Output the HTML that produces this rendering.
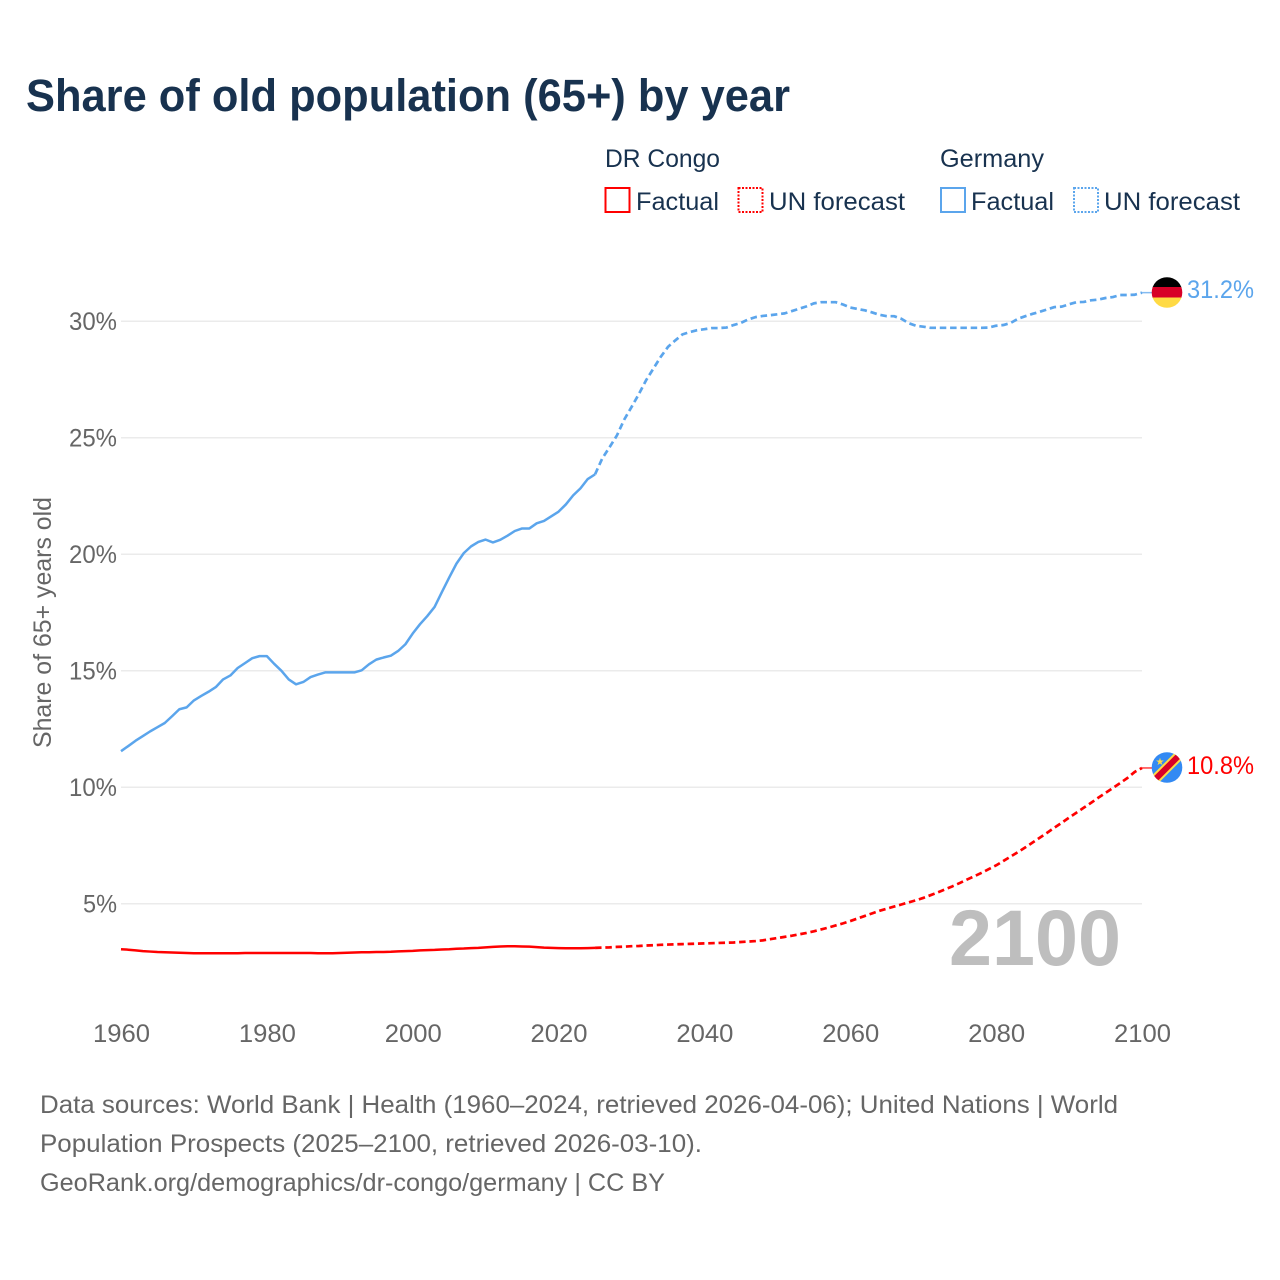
<!DOCTYPE html>
<html lang="en">
<head>
<meta charset="utf-8">
<title>Share of old population (65+) by year</title>
<style>
  html, body { margin: 0; padding: 0; background: #fff; }
  svg { display: block; font-family: "Liberation Sans", sans-serif; }
</style>
</head>
<body>
<svg id="chart" xmlns="http://www.w3.org/2000/svg" width="1280" height="1280" viewBox="0 0 1280 1280">
  <rect x="0" y="0" width="1280" height="1280" fill="#fff"/>
  <text x="26" y="111" font-size="45" font-weight="700" fill="#18324f" textLength="764" lengthAdjust="spacingAndGlyphs">Share of old population (65+) by year</text>

  <g font-size="25" fill="#18324f">
    <text x="605" y="167" textLength="115" lengthAdjust="spacingAndGlyphs">DR Congo</text>
    <text x="940" y="167" textLength="104" lengthAdjust="spacingAndGlyphs">Germany</text>
    <rect x="605.5" y="188" width="24" height="24" fill="none" stroke="#ff0000" stroke-width="2"/>
    <text x="636" y="210" textLength="83" lengthAdjust="spacingAndGlyphs">Factual</text>
    <rect x="738.5" y="188" width="24" height="24" fill="none" stroke="#ff0000" stroke-width="2" stroke-dasharray="2 1.5"/>
    <text x="769" y="210" textLength="136" lengthAdjust="spacingAndGlyphs">UN forecast</text>
    <rect x="941" y="188" width="24" height="24" fill="none" stroke="#5ba5ec" stroke-width="2"/>
    <text x="971" y="210" textLength="83" lengthAdjust="spacingAndGlyphs">Factual</text>
    <rect x="1074" y="188" width="24" height="24" fill="none" stroke="#5ba5ec" stroke-width="2" stroke-dasharray="2 1.5"/>
    <text x="1104" y="210" textLength="136" lengthAdjust="spacingAndGlyphs">UN forecast</text>
  </g>

  <text transform="translate(51 622.5) rotate(-90)" text-anchor="middle" font-size="25" fill="#666" textLength="251" lengthAdjust="spacingAndGlyphs">Share of 65+ years old</text>

  <g id="grid"></g>
  <g id="yticks"></g>
  <g id="xticks"></g>
  <text x="949" y="965" font-size="79" font-weight="700" fill="#bebebe" textLength="172" lengthAdjust="spacingAndGlyphs">2100</text>
  <g id="series"></g>

  <g>
    <clipPath id="clip-de"><circle cx="1167" cy="292.5" r="15.3"/></clipPath>
    <g clip-path="url(#clip-de)">
      <rect x="1150" y="276" width="34" height="12" fill="#000"/>
      <rect x="1150" y="287" width="34" height="11" fill="#d80027"/>
      <rect x="1150" y="297.5" width="34" height="12" fill="#ffda44"/>
    </g>
  </g>
  <g>
    <clipPath id="clip-cd"><circle cx="1167" cy="767.5" r="15.3"/></clipPath>
    <g clip-path="url(#clip-cd)">
      <rect x="1150" y="750" width="34" height="35" fill="#338af3"/>
      <line x1="1150" y1="784.5" x2="1184" y2="750.5" stroke="#ffda44" stroke-width="10"/>
      <line x1="1150" y1="784.5" x2="1184" y2="750.5" stroke="#d80027" stroke-width="6"/>
    </g>
    <text x="1160" y="765" text-anchor="middle" font-size="10" fill="#ffda44" font-family="'DejaVu Sans', sans-serif">★</text>
  </g>

  <text id="label-germany" x="1187" y="298" font-size="25" fill="#5ba5ec" textLength="67" lengthAdjust="spacingAndGlyphs">31.2%</text>
  <text id="label-congo" x="1187" y="774" font-size="25" fill="#ff0000" textLength="67" lengthAdjust="spacingAndGlyphs">10.8%</text>

  <g font-size="25" fill="#666">
    <text x="40" y="1113" textLength="1078" lengthAdjust="spacingAndGlyphs">Data sources: World Bank | Health (1960–2024, retrieved 2026-04-06); United Nations | World</text>
    <text x="40" y="1152" textLength="662" lengthAdjust="spacingAndGlyphs">Population Prospects (2025–2100, retrieved 2026-03-10).</text>
    <text x="40" y="1191" textLength="625" lengthAdjust="spacingAndGlyphs">GeoRank.org/demographics/dr-congo/germany | CC BY</text>
  </g>
</svg>

<script>
const factualStartYear = 1960;
const forecastStartYear = 2025;

const xTickYears = [1960, 1980, 2000, 2020, 2040, 2060, 2080, 2100];
const yTickValues = [5, 10, 15, 20, 25, 30];
const yTickLabels = ["5%", "10%", "15%", "20%", "25%", "30%"];

const germanyFactual = [
  11.55, 11.77, 12.0, 12.2, 12.4, 12.58, 12.76, 13.05, 13.35, 13.43,
  13.73, 13.92, 14.1, 14.3, 14.63, 14.8, 15.12, 15.33, 15.54, 15.63,
  15.63, 15.3, 15.0, 14.63, 14.42, 14.52, 14.73, 14.84, 14.93, 14.93,
  14.93, 14.93, 14.93, 15.02, 15.28, 15.48, 15.57, 15.65, 15.85, 16.14,
  16.6, 17.0, 17.35, 17.74, 18.38, 19.0, 19.6, 20.05, 20.34, 20.53,
  20.63, 20.51, 20.62, 20.8, 21.0, 21.11, 21.11, 21.33, 21.43, 21.63,
  21.83, 22.14, 22.53, 22.83, 23.23, 23.43
];

const germanyForecast = [
  23.43, 24.12, 24.6, 25.1, 25.78,
  26.32, 26.87, 27.47, 27.97, 28.47, 28.9, 29.18, 29.44, 29.54, 29.62,
  29.66, 29.71, 29.71, 29.73, 29.84, 29.93, 30.08, 30.18, 30.23, 30.26,
  30.3, 30.34, 30.44, 30.54, 30.64, 30.77, 30.82, 30.82, 30.82, 30.72,
  30.59, 30.53, 30.47, 30.38, 30.28, 30.22, 30.22, 30.11, 29.92, 29.81,
  29.77, 29.72, 29.72, 29.72, 29.72, 29.72, 29.72, 29.72, 29.72, 29.73,
  29.81, 29.84, 29.93, 30.11, 30.22, 30.32, 30.41, 30.51, 30.61, 30.63,
  30.73, 30.82, 30.83, 30.9, 30.93, 31.0, 31.04, 31.13, 31.13, 31.14,
  31.23
];

const congoFactual = [
  3.05, 3.03, 3.0, 2.97, 2.95, 2.93, 2.92, 2.91, 2.90, 2.89,
  2.88, 2.88, 2.88, 2.88, 2.88, 2.88, 2.88, 2.89, 2.89, 2.89,
  2.89, 2.89, 2.89, 2.89, 2.89, 2.89, 2.89, 2.88, 2.88, 2.88,
  2.89, 2.90, 2.91, 2.92, 2.92, 2.93, 2.93, 2.94, 2.96, 2.97,
  2.98, 3.0, 3.01, 3.02, 3.04, 3.05, 3.07, 3.08, 3.10, 3.11,
  3.13, 3.15, 3.17, 3.18, 3.18, 3.17, 3.16, 3.14, 3.12, 3.11,
  3.10, 3.09, 3.09, 3.09, 3.10, 3.11
];

const congoForecast = [
  3.11, 3.12, 3.13, 3.15, 3.16,
  3.18, 3.19, 3.21, 3.22, 3.24, 3.25, 3.26, 3.27, 3.28, 3.29,
  3.30, 3.31, 3.32, 3.33, 3.34, 3.36, 3.38, 3.40, 3.43, 3.48,
  3.53, 3.58, 3.63, 3.69, 3.75, 3.82, 3.90, 3.98, 4.07, 4.16,
  4.26, 4.37, 4.48, 4.59, 4.70, 4.79, 4.88, 4.97, 5.06, 5.15,
  5.25, 5.37, 5.49, 5.62, 5.75, 5.89, 6.04, 6.18, 6.33, 6.49,
  6.65, 6.84, 7.03, 7.22, 7.42, 7.63, 7.84, 8.05, 8.27, 8.48,
  8.70, 8.91, 9.12, 9.33, 9.55, 9.76, 9.97, 10.18, 10.4, 10.66,
  10.83
];

const NS = "http://www.w3.org/2000/svg";
const BLUE = "#5ba5ec";
const RED = "#ff0000";

function xScale(year) {
  return 121 + (year - 1960) * (1142 - 121) / 140;
}
function yScale(value) {
  return 787.3 - (value - 10) * 23.3;
}
function pointsFor(values, startYear) {
  return values.map(function (v, i) {
    return xScale(startYear + i).toFixed(2) + "," + yScale(v).toFixed(2);
  }).join(" ");
}
function drawLine(values, startYear, color, dash, name) {
  const line = document.createElementNS(NS, "polyline");
  
  
  line.setAttribute("points", pointsFor(values, startYear));
  line.setAttribute("fill", "none");
  line.setAttribute("stroke", color);
  line.setAttribute("stroke-width", dash ? "2.7" : "2.5");
  line.setAttribute("stroke-linejoin", "round");
  if (dash) line.setAttribute("stroke-dasharray", dash);
  document.getElementById("series").appendChild(line);
}
function drawConnector(value, color, name) {
  const c = document.createElementNS(NS, "line");
  
  
  c.setAttribute("x1", xScale(2100));
  c.setAttribute("x2", 1152);
  c.setAttribute("y1", yScale(value));
  c.setAttribute("y2", yScale(value));
  c.setAttribute("stroke", color);
  c.setAttribute("stroke-width", "1.5");
  c.setAttribute("opacity", "0.75");
  document.getElementById("series").appendChild(c);
}

yTickValues.forEach(function (v, i) {
  const g = document.createElementNS(NS, "line");
  
  
  g.setAttribute("x1", xScale(1960));
  g.setAttribute("x2", xScale(2100));
  g.setAttribute("y1", yScale(v));
  g.setAttribute("y2", yScale(v));
  g.setAttribute("stroke", "#ebebeb");
  g.setAttribute("stroke-width", "1.5");
  document.getElementById("grid").appendChild(g);

  const t = document.createElementNS(NS, "text");
  
  
  t.setAttribute("x", 117);
  t.setAttribute("y", yScale(v) + 8.7);
  t.setAttribute("text-anchor", "end");
  t.setAttribute("font-size", "25");
  t.setAttribute("fill", "#666");
  t.setAttribute("textLength", yTickLabels[i].length === 2 ? 34 : 48);
  t.setAttribute("lengthAdjust", "spacingAndGlyphs");
  t.textContent = yTickLabels[i];
  document.getElementById("yticks").appendChild(t);
});

xTickYears.forEach(function (yr) {
  const t = document.createElementNS(NS, "text");
  
  
  t.setAttribute("x", xScale(yr) + 0.5);
  t.setAttribute("y", 1042);
  t.setAttribute("text-anchor", "middle");
  t.setAttribute("font-size", "25");
  t.setAttribute("fill", "#666");
  t.setAttribute("textLength", 57);
  t.setAttribute("lengthAdjust", "spacingAndGlyphs");
  t.textContent = String(yr);
  document.getElementById("xticks").appendChild(t);
});

drawLine(germanyFactual, factualStartYear, BLUE, null, "germany-factual-line");
drawLine(germanyForecast, forecastStartYear, BLUE, "6.5 3.8", "germany-forecast-line");
drawLine(congoFactual, factualStartYear, RED, null, "congo-factual-line");
drawLine(congoForecast, forecastStartYear, RED, "6.5 3.8", "congo-forecast-line");
drawConnector(germanyForecast[germanyForecast.length - 1], BLUE, "germany-flag-connector");
drawConnector(congoForecast[congoForecast.length - 1], RED, "congo-flag-connector");

document.getElementById("label-germany").textContent = germanyForecast[germanyForecast.length - 1].toFixed(1) + "%";
document.getElementById("label-congo").textContent = congoForecast[congoForecast.length - 1].toFixed(1) + "%";
</script>
</body>
</html>
